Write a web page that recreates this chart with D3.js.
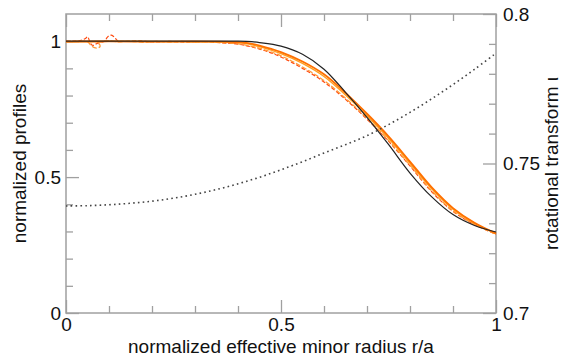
<!DOCTYPE html>
<html>
<head>
<meta charset="utf-8">
<script src="https://cdn.jsdelivr.net/npm/d3@7"></script>
<style>
  html, body { margin: 0; padding: 0; background: #fff; }
  svg { display: block; }
  text { font-family: "Liberation Sans", Arial, Helvetica, sans-serif; }
</style>
</head>
<body>
<svg id="chart" width="562" height="357"></svg>
<script>
// ---------------- data ----------------
const rGrid = [0, 0.1, 0.2, 0.3, 0.4, 0.42, 0.45, 0.5, 0.55, 0.6, 0.65, 0.7, 0.75, 0.8, 0.85, 0.9, 0.95, 1.0];
const profileModel = [1, 1, 1, 1, 1, 0.999, 0.995, 0.982, 0.952, 0.897, 0.812, 0.72, 0.62, 0.515, 0.428, 0.362, 0.322, 0.298];
const profileOrangeA = [0.998, 0.999, 0.998, 0.999, 0.996, 0.994, 0.984, 0.96, 0.925, 0.878, 0.81, 0.733, 0.65, 0.557, 0.463, 0.386, 0.332, 0.293];
const profileOrangeB = [0.998, 1.0, 0.999, 0.998, 0.995, 0.991, 0.98, 0.954, 0.918, 0.87, 0.802, 0.726, 0.643, 0.551, 0.458, 0.382, 0.33, 0.292];

const rDashC = [0, 0.03, 0.05, 0.058, 0.066, 0.074, 0.079, 0.078, 0.072, 0.08, 0.09, 0.1, 0.12, 0.15, 0.18, 0.21, 0.24, 0.27, 0.3, 0.33, 0.36, 0.4, 0.45, 0.5, 0.55, 0.6, 0.65, 0.7, 0.75, 0.8, 0.85, 0.9, 0.95, 1.0];
const profileDashC = [1.0, 1.0, 0.998, 0.985, 0.976, 0.975, 0.98, 0.988, 0.993, 0.997, 1.0, 1.002, 0.998, 1.0, 0.996, 0.999, 0.997, 0.999, 0.996, 0.998, 0.995, 0.99, 0.974, 0.946, 0.905, 0.855, 0.79, 0.717, 0.635, 0.544, 0.45, 0.376, 0.326, 0.29];

const rDashD = [0, 0.03, 0.045, 0.05, 0.055, 0.06, 0.065, 0.07, 0.08, 0.09, 0.095, 0.1, 0.105, 0.11, 0.115, 0.12, 0.14, 0.17, 0.2, 0.24, 0.28, 0.32, 0.36, 0.4, 0.45, 0.5, 0.55, 0.6, 0.65, 0.7, 0.75, 0.8, 0.85, 0.9, 0.95, 1.0];
const profileDashD = [1.0, 1.001, 1.01, 1.016, 1.0, 0.986, 0.985, 0.99, 0.995, 1.0, 1.012, 1.02, 1.022, 1.018, 1.01, 1.002, 0.999, 1.001, 0.997, 0.999, 0.996, 0.998, 0.994, 0.989, 0.971, 0.942, 0.9, 0.85, 0.786, 0.713, 0.632, 0.541, 0.447, 0.374, 0.325, 0.29];

const rIota = [0, 0.05, 0.1, 0.15, 0.2, 0.25, 0.3, 0.35, 0.4, 0.45, 0.5, 0.55, 0.6, 0.65, 0.7, 0.75, 0.8, 0.85, 0.9, 0.95, 1.0];
const iota = [0.7358, 0.7359, 0.7362, 0.7367, 0.7374, 0.7384, 0.7397, 0.7413, 0.7432, 0.7454, 0.7479, 0.7506, 0.7535, 0.7563, 0.7593, 0.7630, 0.7671, 0.7716, 0.7764, 0.7815, 0.7869];

const xTickLabels = [0, 0.5, 1];
const xMinorTicks = [0.1, 0.2, 0.3, 0.4, 0.6, 0.7, 0.8, 0.9];
const yLTickLabels = [0, 0.5, 1];
const yLMinorTicks = [0.1, 0.2, 0.3, 0.4, 0.6, 0.7, 0.8, 0.9, 1.0];
const yRTickLabels = [0.7, 0.75, 0.8];
const yRMinorTicks = [0.71, 0.72, 0.73, 0.74, 0.76, 0.77, 0.78, 0.79];

// ---------------- layout ----------------
const W = 562, H = 357;
const L = 66, R = 496, T = 14, B = 313;
const svg = d3.select("#chart");

const x = d3.scaleLinear().domain([0, 1]).range([L, R]);
const yL = d3.scaleLinear().domain([0, 1.1]).range([B, T]);
const yR = d3.scaleLinear().domain([0.7, 0.8]).range([B, T]);

const axisColor = "#a0a0a0";
const fontSize = 19;

function styleAxis(g) {
  g.select(".domain").remove();
  g.selectAll(".tick line").attr("stroke", axisColor).attr("stroke-width", 1.3);
  g.selectAll(".tick text").attr("fill", "#111").attr("font-size", fontSize)
    .attr("font-family", '"Liberation Sans", Arial, sans-serif');
}

// bottom axis
svg.append("g").attr("transform", `translate(0,${B})`)
  .call(d3.axisBottom(x).tickValues(xTickLabels).tickSize(-13).tickPadding(5).tickFormat(d3.format("")))
  .call(styleAxis);
svg.append("g").attr("transform", `translate(0,${B})`)
  .call(d3.axisBottom(x).tickValues(xMinorTicks).tickSize(-7).tickFormat(""))
  .call(styleAxis);
// top axis
svg.append("g").attr("transform", `translate(0,${T})`)
  .call(d3.axisTop(x).tickValues(xTickLabels).tickSize(-13).tickFormat(""))
  .call(styleAxis);
svg.append("g").attr("transform", `translate(0,${T})`)
  .call(d3.axisTop(x).tickValues(xMinorTicks).tickSize(-7).tickFormat(""))
  .call(styleAxis);
// left axis
svg.append("g").attr("transform", `translate(${L},0)`)
  .call(d3.axisLeft(yL).tickValues(yLTickLabels).tickSize(-13).tickPadding(5).tickFormat(d3.format("")))
  .call(styleAxis);
svg.append("g").attr("transform", `translate(${L},0)`)
  .call(d3.axisLeft(yL).tickValues(yLMinorTicks).tickSize(-7).tickFormat(""))
  .call(styleAxis);
// right axis
svg.append("g").attr("transform", `translate(${R},0)`)
  .call(d3.axisRight(yR).tickValues(yRTickLabels).tickSize(-13).tickPadding(7).tickFormat(d3.format("")))
  .call(styleAxis);
svg.append("g").attr("transform", `translate(${R},0)`)
  .call(d3.axisRight(yR).tickValues(yRMinorTicks).tickSize(-7).tickFormat(""))
  .call(styleAxis);

// frame
svg.append("rect").attr("x", L).attr("y", T).attr("width", R - L).attr("height", B - T)
  .attr("fill", "none").attr("stroke", axisColor).attr("stroke-width", 1.5);

// ---------------- curves ----------------
const plot = svg.append("g");
const lineL = d3.line().x(d => x(d[0])).y(d => yL(d[1])).curve(d3.curveCatmullRom.alpha(0.5));
const lineR = d3.line().x(d => x(d[0])).y(d => yR(d[1])).curve(d3.curveCatmullRom.alpha(0.5));

const zip = (a, b) => a.map((v, i) => [v, b[i]]);

plot.append("path").datum(zip(rDashD, profileDashD)).attr("d", lineL)
  .attr("fill", "none").attr("stroke", "#ff4a10").attr("stroke-width", 1.2).attr("stroke-dasharray", "4,2");
plot.append("path").datum(zip(rDashC, profileDashC)).attr("d", lineL)
  .attr("fill", "none").attr("stroke", "#ff9a3a").attr("stroke-width", 1.3).attr("stroke-dasharray", "5,2");
plot.append("path").datum(zip(rGrid, profileOrangeB)).attr("d", lineL)
  .attr("fill", "none").attr("stroke", "#ffa020").attr("stroke-width", 1.4);
plot.append("path").datum(zip(rGrid, profileOrangeA)).attr("d", lineL)
  .attr("fill", "none").attr("stroke", "#ff7000").attr("stroke-width", 1.8);
plot.append("path").datum(zip(rGrid, profileModel)).attr("d", lineL)
  .attr("fill", "none").attr("stroke", "#222").attr("stroke-width", 1.2);
plot.append("path").datum(zip(rIota, iota)).attr("d", lineR)
  .attr("fill", "none").attr("stroke", "#444").attr("stroke-width", 1.6).attr("stroke-dasharray", "1.6,3.2");

// ---------------- labels ----------------
svg.append("text").attr("x", (L + R) / 2).attr("y", 353).attr("text-anchor", "middle")
  .attr("font-size", fontSize).attr("fill", "#111").text("normalized effective minor radius r/a");
svg.append("text").attr("transform", `translate(26,${(T + B) / 2}) rotate(-90)`).attr("text-anchor", "middle")
  .attr("font-size", fontSize).attr("fill", "#111").text("normalized profiles");
svg.append("text").attr("transform", `translate(558,${(T + B) / 2}) rotate(-90)`).attr("text-anchor", "middle")
  .attr("font-size", fontSize).attr("fill", "#111").text("rotational transform ι");
</script>
</body>
</html>
